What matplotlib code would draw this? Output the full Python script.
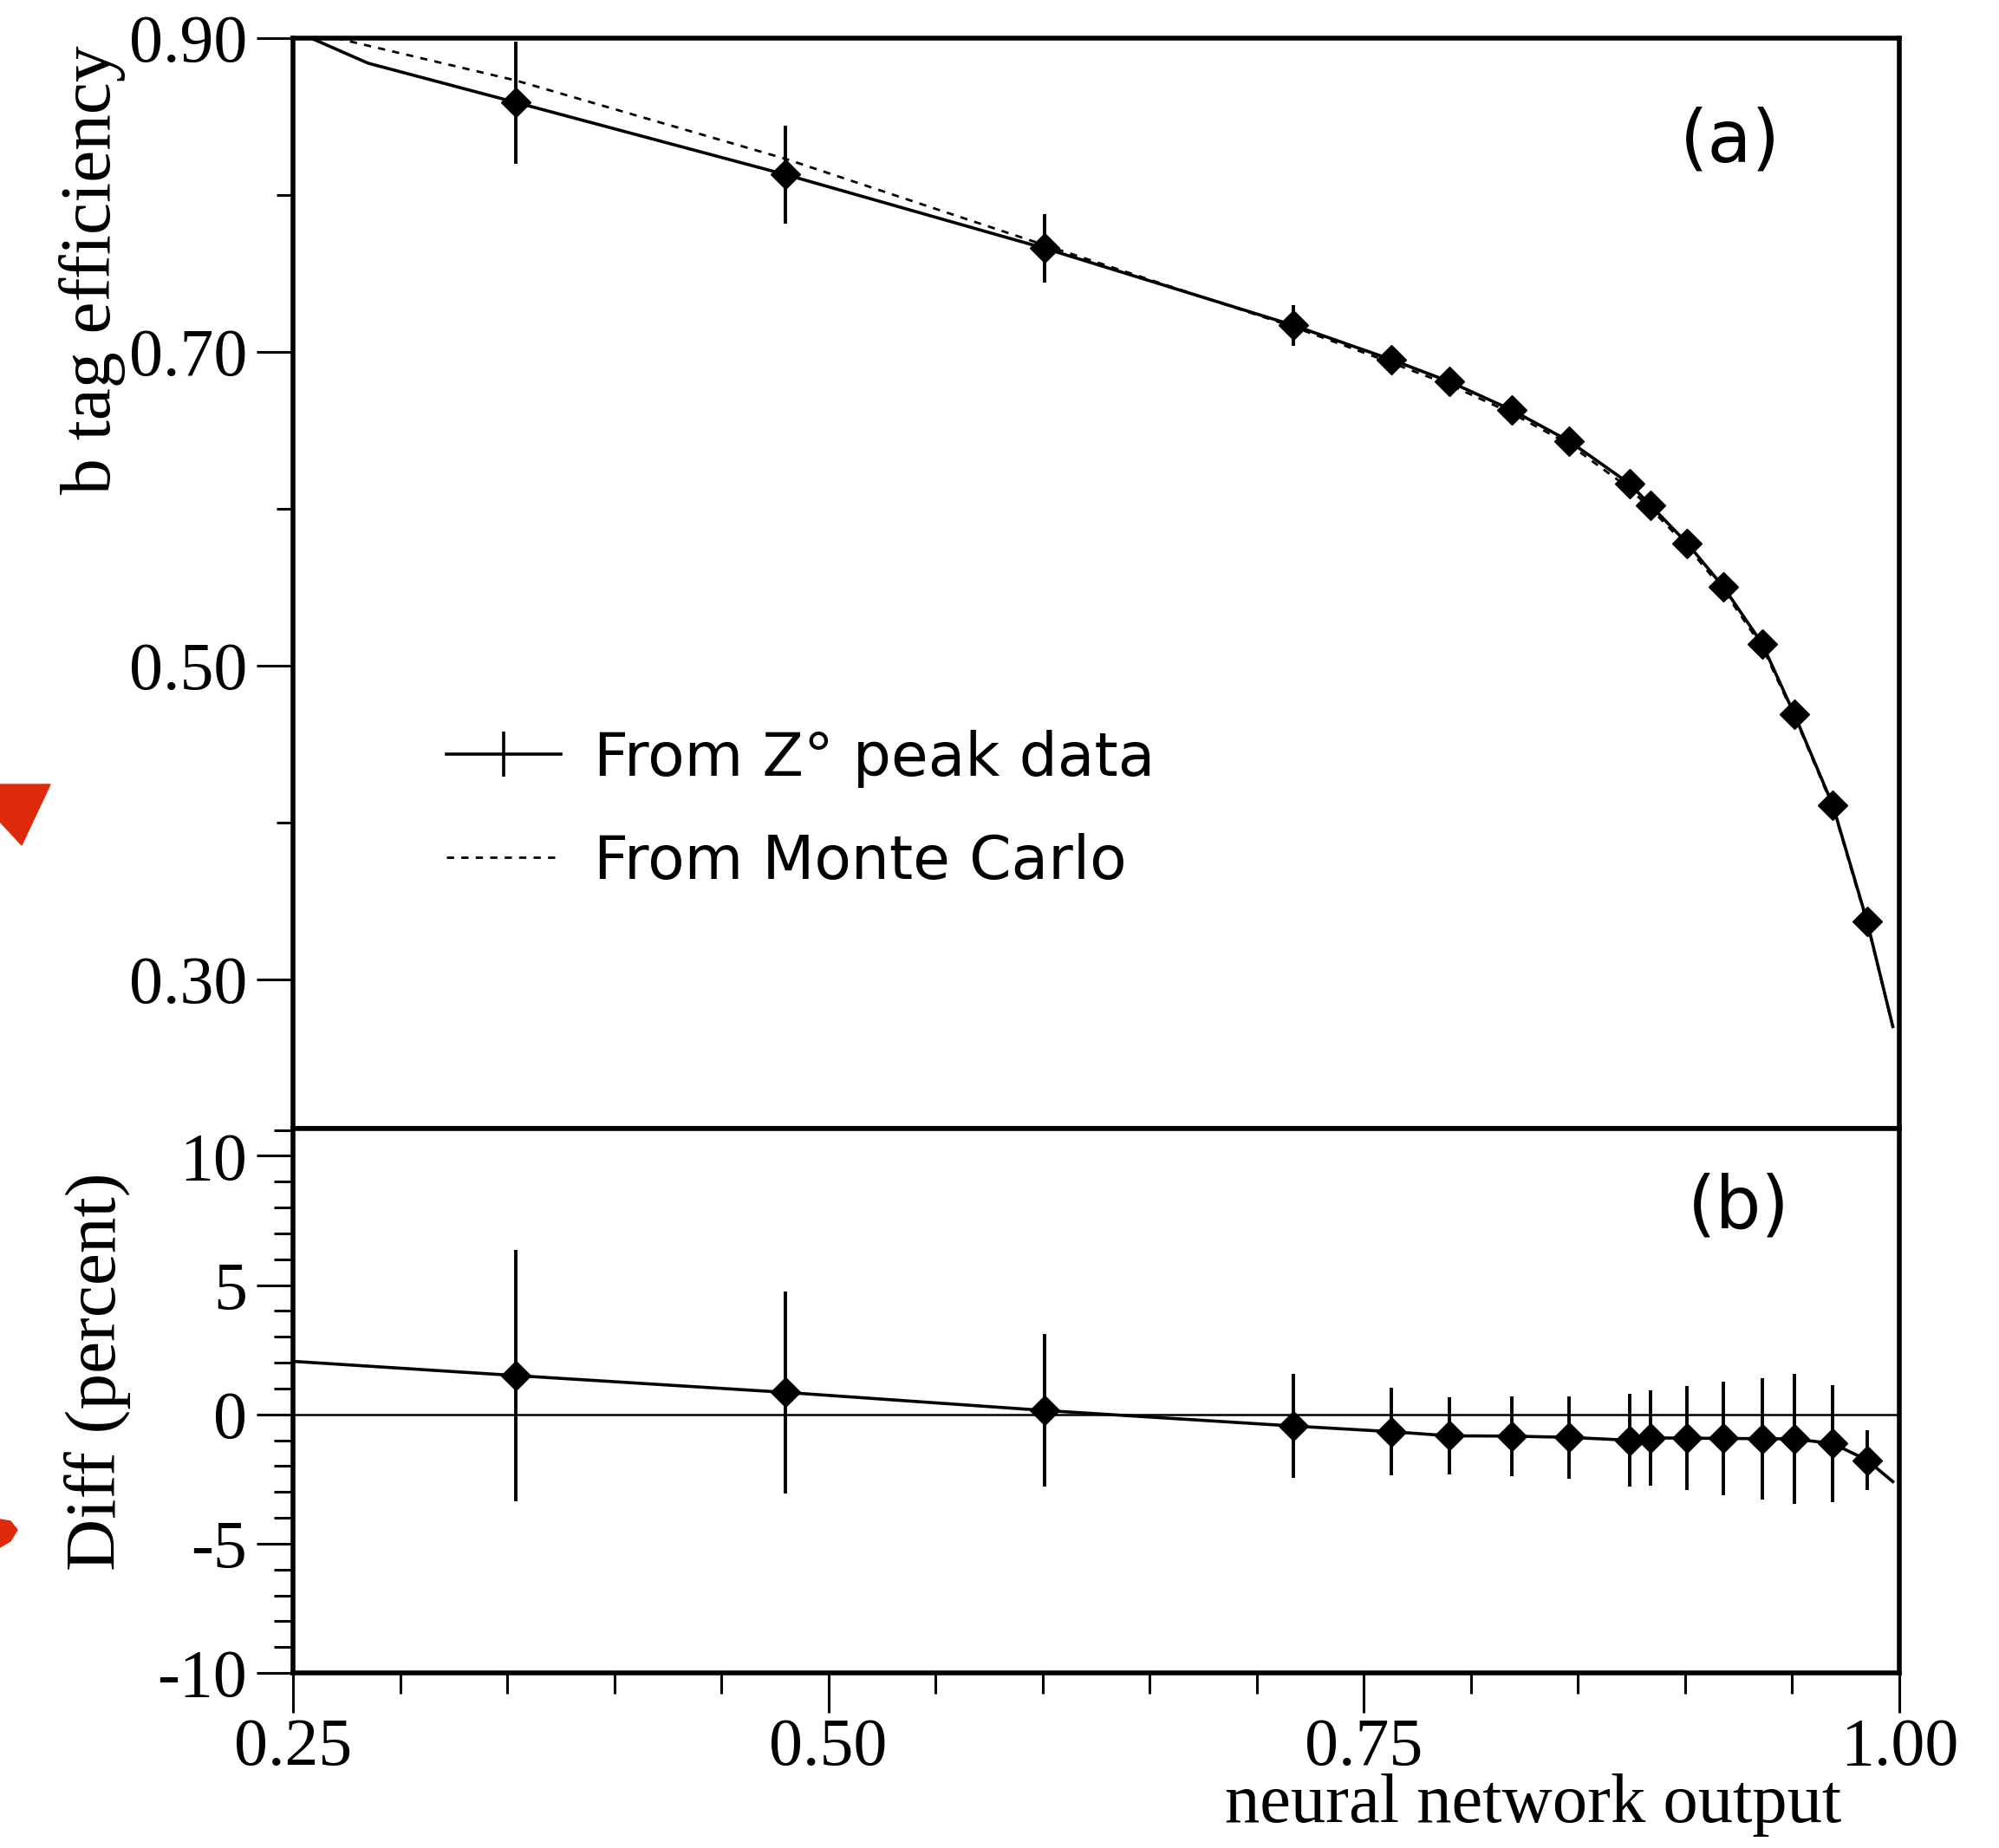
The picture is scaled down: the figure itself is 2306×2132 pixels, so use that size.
import numpy as np
import matplotlib
matplotlib.use("Agg")
import matplotlib.pyplot as plt
from matplotlib.lines import Line2D
from matplotlib.patches import Polygon
from matplotlib.ticker import MultipleLocator, FixedLocator

# data
x_pts = [0.354, 0.480, 0.601, 0.717, 0.763, 0.790, 0.819, 0.846,
         0.874, 0.884, 0.901, 0.918, 0.936, 0.951, 0.969, 0.985]
eff_data = [0.859, 0.813, 0.766, 0.717, 0.695, 0.681, 0.663, 0.643,
            0.616, 0.602, 0.578, 0.550, 0.514, 0.469, 0.411, 0.337]
eff_err = [0.039, 0.031, 0.022, 0.013, 0.008, 0.007, 0.007, 0.007,
           0.007, 0.007, 0.007, 0.007, 0.007, 0.007, 0.007, 0.007]

# curve through the Z peak points (with ends)
curve_x = [0.25, 0.285, 0.354, 0.480, 0.601, 0.717, 0.763, 0.790, 0.819, 0.846,
           0.874, 0.884, 0.901, 0.918, 0.936, 0.951, 0.969, 0.985, 0.997]
curve_y = [0.905, 0.884, 0.859, 0.813, 0.766, 0.717, 0.695, 0.681, 0.663, 0.643,
           0.616, 0.602, 0.578, 0.550, 0.514, 0.469, 0.411, 0.337, 0.270]

# Monte Carlo curve
mc_x = [0.27, 0.354, 0.480, 0.601, 0.717, 0.763, 0.790, 0.819, 0.846,
        0.874, 0.884, 0.901, 0.918, 0.936, 0.951, 0.969, 0.985, 0.997]
mc_y = [0.900, 0.873, 0.823, 0.768, 0.716, 0.693, 0.679, 0.661, 0.641,
        0.613, 0.600, 0.576, 0.548, 0.512, 0.468, 0.410, 0.336, 0.270]

# difference panel
diff = [1.5, 0.85, 0.15, -0.45, -0.67, -0.83, -0.84, -0.89,
        -1.0, -0.91, -0.92, -0.93, -0.94, -0.95, -1.13, -1.77]
diff_err = [4.85, 3.9, 2.95, 2.0, 1.7, 1.5, 1.55, 1.6,
            1.8, 1.85, 2.0, 2.2, 2.35, 2.5, 2.25, 1.15]
diff_line_x = [0.25] + x_pts + [0.997]
diff_line_y = [2.05] + diff + [-2.6]

serif = "Liberation Serif"
sans = "DejaVu Sans"

fig = plt.figure(figsize=(23.06, 21.32), dpi=100)
ax1 = fig.add_axes([0.1466, 0.3893, 0.8035, 0.5901])
ax2 = fig.add_axes([0.1466, 0.0947, 0.8035, 0.2946])

# ---- panel (a)
ax1.plot(curve_x, curve_y, color="black", lw=2.6)
ax1.plot(mc_x, mc_y, color="black", lw=2.0, dashes=(3, 3))
ax1.errorbar(x_pts, eff_data, yerr=eff_err, fmt="D", color="black",
             markersize=17, elinewidth=2.8, capsize=0)
ax1.set_xlim(0.25, 1.0)
ax1.set_ylim(0.205, 0.90)
ax1.yaxis.set_major_locator(FixedLocator([0.30, 0.50, 0.70, 0.90]))
ax1.yaxis.set_minor_locator(FixedLocator([0.40, 0.60, 0.80]))
ax1.yaxis.set_major_formatter(plt.FuncFormatter(lambda v, p: "%.2f" % v))
ax1.xaxis.set_major_locator(MultipleLocator(0.25))
ax1.xaxis.set_minor_locator(MultipleLocator(0.05))
ax1.tick_params(axis="x", which="both", direction="out", labelbottom=False,
                width=2.2)
ax1.tick_params(axis="x", which="major", length=35)
ax1.tick_params(axis="x", which="minor", length=19)
ax1.tick_params(axis="y", which="major", direction="out", length=30,
                width=2.2, pad=8, labelsize=56)
ax1.tick_params(axis="y", which="minor", direction="out", length=14, width=2.2)
for lab in ax1.get_yticklabels():
    lab.set_fontfamily(serif)

ax1.text(0.895, 0.905, "(a)", transform=ax1.transAxes, fontsize=60,
         family=sans, ha="center", va="center")

handles = [Line2D([], [], color="black", lw=2.6, marker="|", markersize=38,
                  markeredgewidth=2.6),
           Line2D([], [], color="black", lw=2.0, dashes=(3, 3))]
leg = ax1.legend(handles, ["From Z\u00b0 peak data", "From Monte Carlo"],
                 loc="upper left", bbox_to_anchor=(0.0955, 0.366),
                 frameon=False, borderpad=0, borderaxespad=0,
                 handlelength=1.9, handletextpad=0.55, labelspacing=0.75,
                 prop={"family": sans, "size": 50})

# ---- panel (b)
ax2.axhline(0, color="black", lw=1.8)
ax2.plot(diff_line_x, diff_line_y, color="black", lw=2.6)
ax2.errorbar(x_pts, diff, yerr=diff_err, fmt="D", color="black",
             markersize=17, elinewidth=2.8, capsize=0)
ax2.set_xlim(0.25, 1.0)
ax2.set_ylim(-10, 11.05)
ax2.xaxis.set_major_locator(MultipleLocator(0.25))
ax2.xaxis.set_minor_locator(MultipleLocator(0.05))
ax2.xaxis.set_major_formatter(plt.FuncFormatter(lambda v, p: "%.2f" % v))
ax2.yaxis.set_major_locator(FixedLocator([-10, -5, 0, 5, 10]))
ax2.yaxis.set_minor_locator(MultipleLocator(1))
ax2.yaxis.set_major_formatter(plt.FuncFormatter(lambda v, p: "%d" % v))
ax2.tick_params(axis="x", which="major", direction="out", length=33,
                width=2.2, pad=4, labelsize=56)
ax2.tick_params(axis="x", which="minor", direction="out", length=17, width=2.2)
ax2.tick_params(axis="y", which="major", direction="out", length=30,
                width=2.2, pad=8, labelsize=56)
ax2.tick_params(axis="y", which="minor", direction="out", length=16, width=2.2)
for lab in ax2.get_xticklabels() + ax2.get_yticklabels():
    lab.set_fontfamily(serif)

ax2.text(0.90, 0.855, "(b)", transform=ax2.transAxes, fontsize=60,
         family=sans, ha="center", va="center")

for ax in (ax1, ax2):
    for sp in ax.spines.values():
        sp.set_linewidth(4)

# axis labels
fig.text(0.046, 0.854, "b tag efficiency", rotation=90, ha="center",
         va="center", fontsize=60, family=serif)
fig.text(0.049, 0.258, "Diff (percent)", rotation=90, ha="center",
         va="center", fontsize=60, family=serif)
fig.text(0.767, 0.023, "neural network output", ha="center", va="center",
         fontsize=58, family=serif)

# red marks on the left edge of the scan
W, H = 2306.0, 2132.0
tri1 = [(0, 905), (58, 905), (25, 975), (0, 948)]
tri2 = [(0, 1753), (12, 1755), (20, 1765), (12, 1778), (0, 1785)]
for pts in (tri1, tri2):
    fig.add_artist(Polygon([(px / W, 1 - py / H) for px, py in pts],
                           closed=True, color="#dd2a0a",
                           transform=fig.transFigure))

fig.savefig("out.png", dpi=100)
